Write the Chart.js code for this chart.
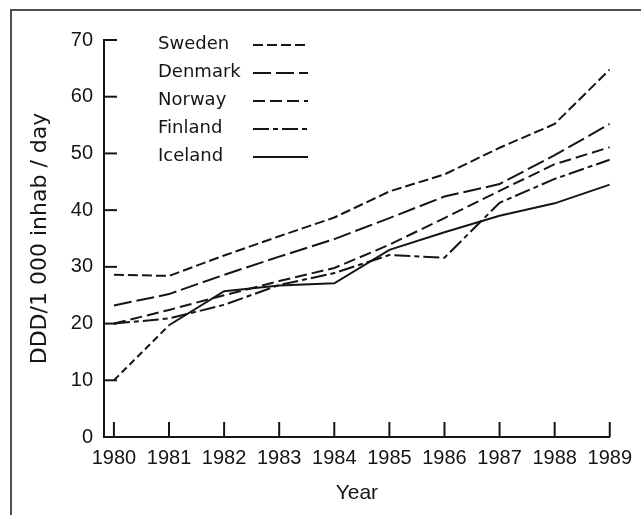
<!DOCTYPE html>
<html>
<head>
<meta charset="utf-8">
<script src="https://cdn.jsdelivr.net/npm/chart.js@4.4.1/dist/chart.umd.min.js"></script>
<style>
  html, body { margin: 0; padding: 0; background: #ffffff; }
  #wrap { position: relative; width: 641px; height: 515px; overflow: hidden; }
  #frame { position: absolute; left: 10px; top: 9px; width: 640px; height: 520px;
           border-top: 2px solid #505050; border-left: 2px solid #505050; box-sizing: border-box; }
  canvas { position: absolute; left: 0; top: 0; }
</style>
</head>
<body>
<div id="wrap">
  <div id="frame"></div>
  <canvas id="c" width="641" height="515"></canvas>
</div>
<script>
// ---- data ----
const years = [1980, 1981, 1982, 1983, 1984, 1985, 1986, 1987, 1988, 1989];
const sweden  = [28.6, 28.4, 32.0, 35.4, 38.7, 43.3, 46.3, 51.0, 55.2, 64.8];
const denmark = [23.2, 25.2, 28.6, 31.8, 34.9, 38.6, 42.4, 44.6, 49.7, 55.2];
const norway  = [20.0, 22.4, 25.0, 27.5, 29.8, 33.9, 38.6, 43.4, 48.1, 51.1];
const finland = [20.0, 20.9, 23.3, 26.8, 28.9, 32.1, 31.6, 41.3, 45.5, 48.9];
const iceland = [10.0, 19.7, 25.7, 26.7, 27.1, 33.0, 36.1, 39.0, 41.2, 44.5];
const yTickValues = [0, 10, 20, 30, 40, 50, 60, 70];
const yTitle = 'DDD/1 000 inhab / day';
const xTitle = 'Year';

const INK = '#151515';
const pts = arr => years.map((yr, i) => ({ x: yr, y: arr[i] }));

const series = [
  { label: 'Sweden',  values: sweden,  dash: [10, 4] },
  { label: 'Denmark', values: denmark, dash: [18, 5] },
  { label: 'Norway',  values: norway,  dash: [12, 5] },
  { label: 'Finland', values: finland, dash: [16, 4, 5, 4] },
  { label: 'Iceland', values: iceland, dash: [] }
];

const datasets = series.map(s => {
  const ds = {
    label: s.label,
    data: pts(s.values),
    borderColor: INK,
    borderWidth: 2,
    borderDash: s.dash,
    pointRadius: 0,
    tension: 0,
    fill: false
  };
  if (s.label === 'Iceland') {
    ds.segment = { borderDash: ctx => ctx.p0DataIndex === 0 ? [7, 4] : undefined };
  }
  return ds;
});

// inward tick marks drawn from the library's scales
const innerTicks = {
  id: 'innerTicks',
  afterDatasetsDraw(chart) {
    const { ctx, chartArea, scales } = chart;
    ctx.save();
    ctx.strokeStyle = INK;
    ctx.lineWidth = 2;
    ctx.setLineDash([]);
    scales.y.ticks.forEach(t => {
      if (t.value === 0) return;
      const py = scales.y.getPixelForValue(t.value);
      ctx.beginPath();
      ctx.moveTo(chartArea.left, py);
      ctx.lineTo(chartArea.left + 13, py);
      ctx.stroke();
    });
    scales.x.ticks.forEach(t => {
      const px = scales.x.getPixelForValue(t.value);
      ctx.beginPath();
      ctx.moveTo(px, chartArea.bottom);
      ctx.lineTo(px, chartArea.bottom - 15);
      ctx.stroke();
    });
    ctx.restore();
  }
};

// legend: name then line sample
const textLegend = {
  id: 'textLegend',
  afterDraw(chart) {
    const { ctx } = chart;
    ctx.save();
    ctx.font = '18px "DejaVu Sans"';
    ctx.fillStyle = INK;
    ctx.textBaseline = 'middle';
    ctx.textAlign = 'left';
    chart.data.datasets.forEach((ds, i) => {
      const y = 44 + i * 28;
      ctx.fillText(ds.label, 158, y);
      ctx.strokeStyle = INK;
      ctx.lineWidth = 2;
      ctx.setLineDash(ds.borderDash || []);
      ctx.beginPath();
      ctx.moveTo(253, y + 1);
      ctx.lineTo(308, y + 1);
      ctx.stroke();
    });
    ctx.restore();
  }
};

new Chart(document.getElementById('c'), {
  type: 'line',
  data: { datasets },
  options: {
    responsive: false,
    animation: false,
    layout: { padding: { left: 10, top: 40, right: 28, bottom: 0 } },
    plugins: { legend: { display: false }, tooltip: { enabled: false } },
    scales: {
      x: {
        type: 'linear',
        min: 1979.82,
        max: 1989,
        afterBuildTicks: s => { s.ticks = years.map(v => ({ value: v })); },
        afterFit: s => { s.height = 78; },
        grid: { display: false, drawTicks: false },
        border: { display: true, color: INK, width: 2 },
        ticks: {
          autoSkip: false, maxRotation: 0, padding: 9, color: INK,
          font: { family: '"Liberation Sans"', size: 20 },
          callback: v => String(v)
        },
        title: {
          display: true, text: xTitle, color: INK,
          font: { family: '"Liberation Sans"', size: 21 },
          padding: { top: 0, bottom: 9 }
        }
      },
      y: {
        min: 0,
        max: 70,
        afterBuildTicks: s => { s.ticks = yTickValues.map(v => ({ value: v })); },
        afterFit: s => { s.width = 94; },
        grid: { display: false, drawTicks: false },
        border: { display: true, color: INK, width: 2 },
        ticks: {
          padding: 11, color: INK,
          font: { family: '"Liberation Sans"', size: 20 }
        },
        title: {
          display: true, text: yTitle, color: INK,
          font: { family: '"DejaVu Sans"', size: 22 },
          padding: { top: 17, bottom: 0 }
        }
      }
    }
  },
  plugins: [innerTicks, textLegend]
});
</script>
</body>
</html>
